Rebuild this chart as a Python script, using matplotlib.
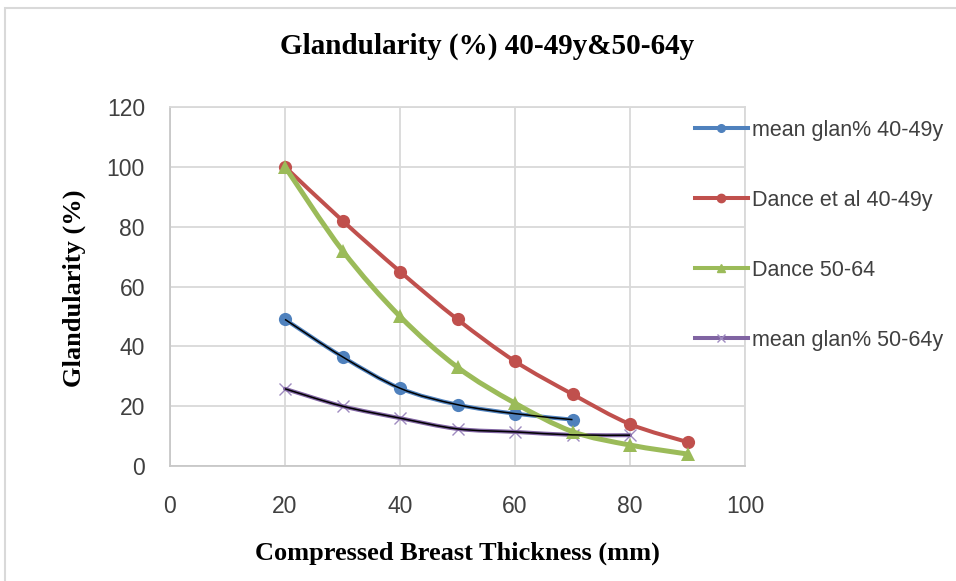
import matplotlib
matplotlib.use("Agg")
import matplotlib.pyplot as plt
from matplotlib.path import Path
from matplotlib.patches import PathPatch, Rectangle
from matplotlib.lines import Line2D

# data
thickness = [20, 30, 40, 50, 60, 70, 80, 90]
mean_40_49 = [49, 36.5, 26, 20.5, 17.5, 15.5]
dance_40_49 = [100, 82, 65, 49, 35, 24, 14, 8]
dance_50_64 = [100, 72, 50, 33, 21, 11.5, 7, 4]
mean_50_64 = [25.8, 20, 16, 12.4, 11.4, 10.4, 10.3]

labels = ["mean glan% 40-49y", "Dance et al 40-49y", "Dance 50-64", "mean glan% 50-64y"]
colors = ["#4F81BD", "#C0504D", "#9BBB59", "#8064A2"]
serif = "Liberation Serif"
sans = "Liberation Sans"
txt_gray = "#404040"
grid_c = "#D9D9D9"


# smoothed line like excel: catmull-rom as cubic bezier segments
def smooth_path(xs, ys):
    pts = list(zip(xs, ys))
    verts = [pts[0]]
    codes = [Path.MOVETO]
    n = len(pts)
    for i in range(n - 1):
        p0 = pts[i - 1] if i > 0 else pts[i]
        p1 = pts[i]
        p2 = pts[i + 1]
        p3 = pts[i + 2] if i + 2 < n else pts[i + 1]
        c1 = (p1[0] + (p2[0] - p0[0]) / 6, p1[1] + (p2[1] - p0[1]) / 6)
        c2 = (p2[0] - (p3[0] - p1[0]) / 6, p2[1] - (p3[1] - p1[1]) / 6)
        verts += [c1, c2, p2]
        codes += [Path.CURVE4] * 3
    return Path(verts, codes)


def draw_series(ax, ys, color, lw, marker, ms, z, mew=0, black=False):
    xs = thickness[:len(ys)]
    ax.add_patch(PathPatch(smooth_path(xs, ys), fill=False, edgecolor=color,
                           lw=lw, capstyle="round", joinstyle="round", zorder=z))
    if marker == "x":
        ax.plot(xs, ys, ls="none", marker="x", ms=ms, mew=1.0, color="#9F8CC0", zorder=z - 0.5)
    else:
        ax.plot(xs, ys, ls="none", marker=marker, ms=ms, mew=mew, color=color, zorder=z + 0.1)
    if black:
        ax.add_patch(PathPatch(smooth_path(xs, ys), fill=False, edgecolor="black",
                               lw=1.1, zorder=10))


fig = plt.figure(figsize=(9.56, 5.81), dpi=100)
fig.patches.append(Rectangle((5 / 956, -0.1), 1.2, (581 - 8) / 581 + 0.1,
                             transform=fig.transFigure, fill=False,
                             edgecolor="#D9D9D9", lw=1.5))

ax = fig.add_axes([170 / 956, (581 - 466) / 581, 575 / 956, 359 / 581])
ax.set_xlim(0, 100)
ax.set_ylim(0, 120)
ax.set_xticks(range(0, 101, 20))
ax.set_yticks(range(0, 121, 20))
ax.grid(True, color=grid_c, lw=1.3)
ax.set_axisbelow(True)
for s in ax.spines.values():
    s.set_color(grid_c)
    s.set_linewidth(1.3)
ax.spines["left"].set_color("#C8C8C8")
ax.spines["bottom"].set_color("#C8C8C8")
ax.tick_params(length=0, labelsize=16.5, labelcolor=txt_gray)
for t in ax.get_xticklabels() + ax.get_yticklabels():
    t.set_fontfamily(sans)
ax.tick_params(axis="y", pad=18)
ax.tick_params(axis="x", pad=21)

draw_series(ax, mean_40_49, colors[0], 2.9, "o", 9.5, 3, black=True)
draw_series(ax, dance_40_49, colors[1], 2.9, "o", 9.5, 4)
draw_series(ax, dance_50_64, colors[2], 3.6, "^", 9.5, 5)
draw_series(ax, mean_50_64, colors[3], 2.9, "x", 9, 2, black=True)

fig.text(487 / 956, 1 - 46 / 581, "Glandularity (%) 40-49y&50-64y", ha="center", va="center",
         fontsize=21, fontweight="bold", family=serif)
ax.set_xlabel("Compressed Breast Thickness (mm)", fontsize=19, fontweight="bold",
              family=serif, labelpad=17)
fig.text(74 / 956, 1 - 288 / 581, "Glandularity (%)", rotation=90, ha="center", va="center",
         fontsize=19, fontweight="bold", family=serif)

handles = [
    Line2D([], [], color=colors[0], lw=2.9, marker="o", ms=5.5),
    Line2D([], [], color=colors[1], lw=2.9, marker="o", ms=6),
    Line2D([], [], color=colors[2], lw=2.9, marker="^", ms=5.5),
    Line2D([], [], color=colors[3], lw=2.9, marker="x", ms=6, mew=1, mec="#9F8CC0"),
]
leg = fig.legend(handles, labels, loc="upper left", bbox_to_anchor=(695 / 956, 1 - 120 / 581),
                 frameon=False, prop={"family": sans, "size": 15.5}, labelspacing=2.27,
                 handlelength=2.45, handletextpad=0.2, borderpad=0, borderaxespad=0)
for t in leg.get_texts():
    t.set_color(txt_gray)

fig.savefig("out.png", dpi=100)
